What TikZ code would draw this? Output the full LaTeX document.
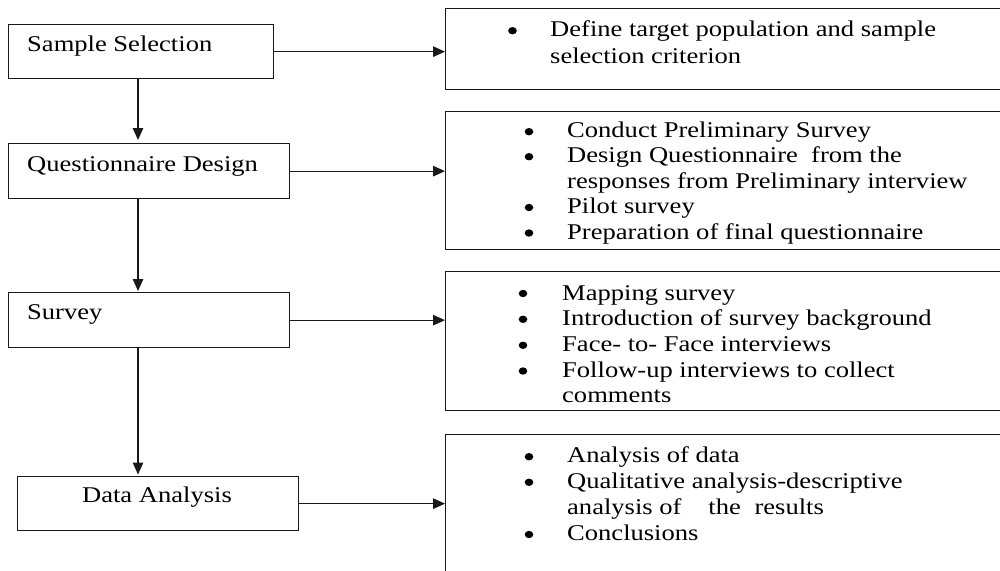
\documentclass[tikz,border=0pt]{standalone}
\usepackage{fontspec}
\setmainfont{Liberation Serif}[FakeStretch=1.18]
\usetikzlibrary{arrows.meta,calc}
\begin{document}
\begin{tikzpicture}[x=1pt,y=-1pt,
  box/.style={draw=black!90,line width=1.3pt,inner sep=0pt,anchor=north west},
  lbl/.style={inner sep=0pt,anchor=base west,text=black,font=\fontsize{22.5}{25.6}\selectfont},
  conn/.style={draw=black!90,line width=1.3pt,-{Triangle[length=12pt,width=10.5pt]}},
  dot/.style={fill=black},
]
\useasboundingbox (0,0) rectangle (1000,570);
\clip (0,0) rectangle (1000,570);
% left boxes
\node[box,minimum width=265pt,minimum height=54pt] (ss) at (8,24) {};
\node[box,minimum width=281pt,minimum height=55pt] (qd) at (8,143) {};
\node[box,minimum width=281pt,minimum height=55pt] (sv) at (8,292) {};
\node[box,minimum width=281pt,minimum height=54pt] (da) at (17,476) {};
% right boxes (run off the page)
\node[box,minimum width=565pt,minimum height=81pt] (r1) at (445,8) {};
\node[box,minimum width=565pt,minimum height=138pt] (r2) at (445,111) {};
\node[box,minimum width=565pt,minimum height=139pt] (r3) at (445,271) {};
\node[box,minimum width=565pt,minimum height=150pt] (r4) at (445,434) {};
% left labels
\node[lbl] (ssl) at (27,51) {Sample Selection};
\node[lbl] (qdl) at (27,171) {Questionnaire Design};
\node[lbl] (svl) at (27,319) {Survey};
\node[lbl,anchor=base] (dal) at (157,502) {Data Analysis};
% right lists
\node[lbl,font=\fontsize{22.5}{27}\selectfont] (r1t) at (550,36) {\begin{tabular}[t]{@{}l@{}}
Define target population and sample\\
selection criterion
\end{tabular}};
\node[lbl,font=\fontsize{22.5}{25.5}\selectfont] (r2t) at (567,137) {\begin{tabular}[t]{@{}l@{}}
Conduct Preliminary Survey\\
Design Questionnaire\hspace{6.6pt} from the\\
responses from Preliminary interview\\
Pilot survey\\
Preparation of final questionnaire
\end{tabular}};
\node[lbl,font=\fontsize{22.5}{25.7}\selectfont] (r3t) at (562,300) {\begin{tabular}[t]{@{}l@{}}
Mapping survey\\
Introduction of survey background\\
Face- to- Face interviews\\
Follow-up interviews to collect\\
comments
\end{tabular}};
\node[lbl,font=\fontsize{22.5}{25.8}\selectfont] (r4t) at (567,462.7) {\begin{tabular}[t]{@{}l@{}}
Analysis of data\\
Qualitative analysis-descriptive\\
analysis of\hspace{27pt}the\hspace{7pt} results\\
Conclusions
\end{tabular}};
% bullets
\foreach \bx/\by in {512.5/30.7,
  529/131.7, 529/156.7, 529/207.5, 529/233,
  523/293.5, 523/319.3, 523/345.3, 523/371,
  529/456.7, 529/482.3, 529/534.5}
  \fill[dot] (\bx,\by) ellipse [x radius=4.3pt, y radius=3.7pt];
% connectors
\coordinate (ax) at (138,0);
\draw[conn,shorten >=3pt] (ax |- ss.south) -- (ax |- qd.north);
\draw[conn,shorten >=1pt] (ax |- qd.south) -- (ax |- sv.north);
\draw[conn,shorten >=1.5pt] (ax |- sv.south) -- (ax |- da.north);
\draw[conn] (ss.east) -- (ss.east -| r1.west);
\draw[conn] (qd.east) -- (qd.east -| r2.west);
\draw[conn] (sv.east) -- (sv.east -| r3.west);
\draw[conn] (da.east) -- (da.east -| r4.west);
\end{tikzpicture}
\end{document}
